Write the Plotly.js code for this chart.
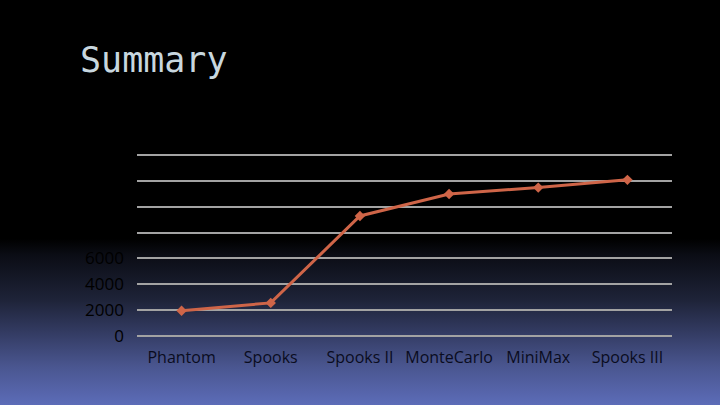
<!DOCTYPE html>
<html>
<head>
<meta charset="utf-8">
<script src="https://cdn.plot.ly/plotly-3.0.1.min.js"></script>
<style>
html,body{margin:0;padding:0;width:720px;height:405px;overflow:hidden;background:#000;}
body{background:linear-gradient(to bottom,#000 0%,#000 59%,#0b0d15 63%,#1e2338 74%,#333b62 82%,#4a5690 90.6%,#5c6cb8 100%);}
#chart{width:720px;height:405px;}
</style>
</head>
<body>
<div id="chart"></div>
<script>
const categories = ["Phantom", "Spooks", "Spooks II", "MonteCarlo", "MiniMax", "Spooks III"];
const values = [1950, 2560, 9280, 10980, 11470, 12070];
const yTickValues = [0, 2000, 4000, 6000, 8000, 10000, 12000, 14000];
const yTickLabels = ["0", "2000", "4000", "6000", "8000", "10000", "12000", "14000"];
const titleText = "Summary";

const trace = {
  x: categories,
  y: values,
  type: "scatter",
  mode: "lines+markers",
  line: {color: "#cf6548", width: 3},
  marker: {symbol: "diamond", size: 8, color: "#cf6548"},
  hoverinfo: "none"
};

const layout = {
  width: 720,
  height: 405,
  paper_bgcolor: "rgba(0,0,0,0)",
  plot_bgcolor: "rgba(0,0,0,0)",
  margin: {l: 137, r: 48, t: 151, b: 69, pad: 0},
  showlegend: false,
  title: {
    text: titleText,
    font: {family: "DejaVu Sans Mono", size: 35, color: "#c8d7df"},
    xref: "container", x: 80/720, xanchor: "left",
    yref: "container", y: 1 - 60/405, yanchor: "middle"
  },
  xaxis: {
    type: "category",
    range: [-0.5, 5.5],
    showgrid: false,
    zeroline: false,
    showline: false,
    ticks: "",
    tickfont: {family: "Open Sans", size: 16, color: "#0a0c1e"},
    ticklabelstandoff: 10,
    fixedrange: true
  },
  yaxis: {
    range: [0, 14300],
    tickmode: "array",
    tickvals: yTickValues,
    ticktext: yTickLabels,
    showgrid: true,
    gridcolor: "#a3a3a3",
    gridwidth: 2,
    zeroline: true,
    zerolinecolor: "#a3a3a3",
    zerolinewidth: 2,
    showline: false,
    ticks: "",
    tickfont: {family: "Open Sans", size: 17, color: "#000000"},
    ticklabelstandoff: 12,
    fixedrange: true
  }
};

Plotly.newPlot("chart", [trace], layout, {staticPlot: true, displayModeBar: false});
</script>
</body>
</html>
